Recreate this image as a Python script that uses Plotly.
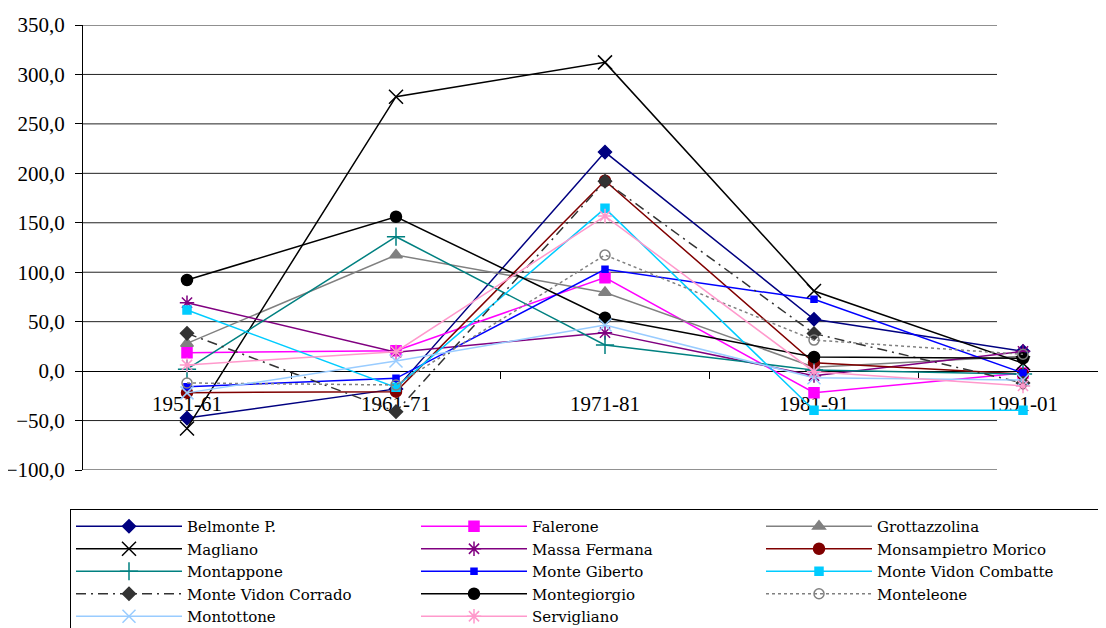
import plotly.graph_objects as go

categories = ["1951-61", "1961-71", "1971-81", "1981-91", "1991-01"]

belmonte = [-47.5, -18.0, 221.5, 52.4, 20.0]
falerone = [18.6, 20.6, 94.5, -21.8, -2.0]
grottazzolina = [28.0, 117.4, 79.5, 4.0, 15.0]
magliano = [-58.0, 277.5, 312.2, 81.0, 8.0]
massa_fermana = [69.2, 19.0, 38.9, -4.6, 20.0]
monsampietro = [-21.8, -20.8, 192.5, 8.5, -3.0]
montappone = [2.0, 135.9, 26.4, 1.0, -3.0]
monte_giberto = [-15.8, -7.3, 102.9, 72.6, -2.0]
mv_combatte = [61.8, -16.4, 164.6, -39.5, -39.5]
mv_corrado = [38.2, -41.0, 192.0, 38.0, -12.0]
montegiorgio = [92.1, 156.1, 54.0, 14.3, 13.0]
monteleone = [-12.0, -14.0, 117.4, 31.4, 17.0]
montottone = [-22.0, 10.2, 46.6, -6.7, -9.0]
servigliano = [6.2, 19.6, 156.8, -0.6, -15.0]

y_ticks = [-100, -50, 0, 50, 100, 150, 200, 250, 300, 350]

series = [
    ("Belmonte P.", belmonte, "#000080", "diamond", 10, "solid"),
    ("Falerone", falerone, "#FF00FF", "square", 10, "solid"),
    ("Grottazzolina", grottazzolina, "#808080", "triangle-up", 11, "solid"),
    ("Magliano", magliano, "#000000", "x-thin-open", 14, "solid"),
    ("Massa Fermana", massa_fermana, "#800080", "asterisk-open", 12, "solid"),
    ("Monsampietro Morico", monsampietro, "#800000", "circle", 11, "solid"),
    ("Montappone", montappone, "#008080", "cross-thin-open", 13, "solid"),
    ("Monte Giberto", monte_giberto, "#0000FF", "square", 6, "solid"),
    ("Monte Vidon Combatte", mv_combatte, "#00CCFF", "square", 8, "solid"),
    ("Monte Vidon Corrado", mv_corrado, "#333333", "diamond", 10, "10px,5px,2px,5px"),
    ("Montegiorgio", montegiorgio, "#000000", "circle", 11, "solid"),
    ("Monteleone", monteleone, "#808080", "circle-open", 10, "3px,3px"),
    ("Montottone", montottone, "#99CCFF", "x-thin-open", 13, "solid"),
    ("Servigliano", servigliano, "#FF99CC", "asterisk-open", 12, "solid"),
]

fig = go.Figure()
for name, vals, color, sym, size, dash in series:
    fig.add_trace(go.Scatter(
        x=categories, y=vals, name=name, mode="lines+markers",
        line=dict(color=color, width=1.5, dash=dash),
        marker=dict(symbol=sym, size=size, color=color,
                    line=dict(color=color, width=1.5)),
    ))

# page body has an 8px margin, so figure coords = screen coords - 8
L, T, W, H = 75, 17, 1023, 445

# horizontal gridlines (end short of the right edge, as in the reference)
for v in y_ticks:
    if v == 0:
        continue
    fig.add_shape(type="line", xref="paper", yref="y",
                  x0=0, x1=(997 - 83) / W, y0=v, y1=v,
                  line=dict(color="#222222", width=1), layer="below")

serif = "Liberation Serif"
fig.update_layout(
    width=1106, height=628,
    margin=dict(l=L, r=1106 - L - W, t=T, b=628 - T - H, autoexpand=False),
    paper_bgcolor="white", plot_bgcolor="white",
    separators=", ",
    font=dict(family=serif, size=20, color="black"),
    showlegend=True,
    legend=dict(
        orientation="h", x=-13 / W, xanchor="left",
        y=(470 - 509) / H, yanchor="top",
        bordercolor="black", borderwidth=1, bgcolor="white",
        font=dict(family="DejaVu Serif", size=15, color="black"),
        itemwidth=106, entrywidth=224, tracegroupgap=0,
        traceorder="normal",
    ),
    xaxis=dict(
        type="category", range=[-104 / 209, 4 + 83 / 209],
        anchor="free", position=100 / 450,
        showline=True, linecolor="black", linewidth=1,
        ticks="outside", ticklen=7, tickcolor="black", tickson="boundaries",
        showgrid=False, zeroline=False, layer="below traces",
        tickfont=dict(family=serif, size=21), ticklabelstandoff=14,
    ),
    yaxis=dict(
        range=[-100, 350], tickvals=y_ticks, tickformat=".1f",
        showline=True, linecolor="black", linewidth=1,
        ticks="outside", ticklen=7, tickcolor="black",
        showgrid=False, zeroline=False, layer="below traces",
        tickfont=dict(family=serif, size=21), ticklabelstandoff=6,
    ),
)

fig.write_html("out.html")
